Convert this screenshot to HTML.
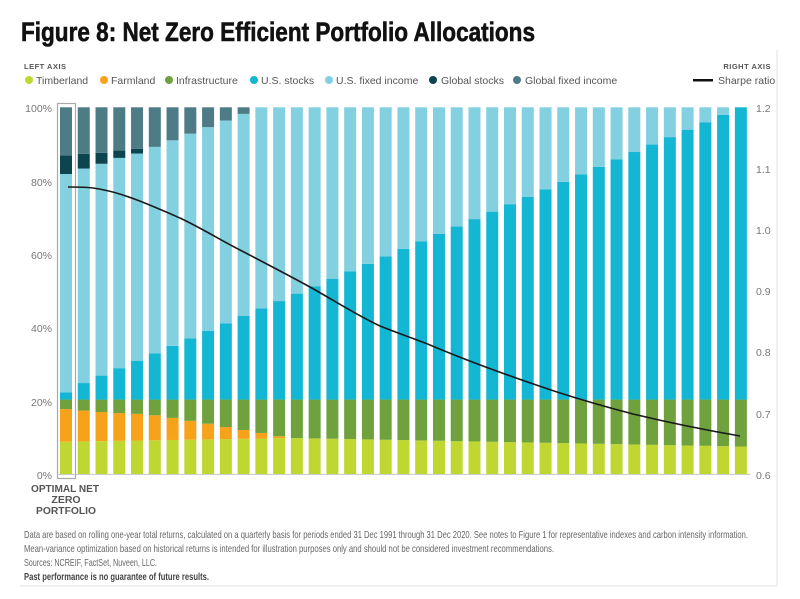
<!DOCTYPE html>
<html><head><meta charset="utf-8"><style>
html,body{margin:0;padding:0;background:#fff;width:800px;height:599px;overflow:hidden}
svg{display:block;font-family:"Liberation Sans",sans-serif}
</style></head><body>
<svg id="s" width="800" height="599" viewBox="0 0 800 599" xmlns="http://www.w3.org/2000/svg">
<text x="21" y="41" font-size="27" font-weight="bold" fill="#111" stroke="#111" stroke-width="0.6" textLength="514" lengthAdjust="spacingAndGlyphs">Figure 8: Net Zero Efficient Portfolio Allocations</text>
<text x="24" y="69" font-size="7.5" font-weight="bold" fill="#555" letter-spacing="0.5">LEFT AXIS</text>
<text x="771" y="69" font-size="7.5" font-weight="bold" fill="#555" text-anchor="end" letter-spacing="0.5">RIGHT AXIS</text>
<g font-size="10.5" fill="#555">
<circle cx="29" cy="80" r="4" fill="#bfd730"/><text x="36" y="84">Timberland</text>
<circle cx="104" cy="80" r="4" fill="#f7a21b"/><text x="111" y="84">Farmland</text>
<circle cx="169" cy="80" r="4" fill="#6fa23d"/><text x="176" y="84">Infrastructure</text>
<circle cx="254" cy="80" r="4" fill="#13b6d3"/><text x="261" y="84">U.S. stocks</text>
<circle cx="329" cy="80" r="4" fill="#83d0e0"/><text x="336" y="84">U.S. fixed income</text>
<circle cx="433" cy="80" r="4" fill="#0c4450"/><text x="441" y="84">Global stocks</text>
<circle cx="517" cy="80" r="4" fill="#4e7c86"/><text x="525" y="84">Global fixed income</text>
<rect x="693" y="79" width="20" height="2.5" fill="#111"/><text x="718" y="84">Sharpe ratio</text>
</g>
<line x1="777" y1="50" x2="777" y2="586" stroke="#e2e2e2"/>
<line x1="20" y1="586" x2="777" y2="586" stroke="#e2e2e2"/>
<g font-size="10.5" fill="#777">
<text x="52" y="112" text-anchor="end">100%</text>
<text x="52" y="186" text-anchor="end">80%</text>
<text x="52" y="259" text-anchor="end">60%</text>
<text x="52" y="332" text-anchor="end">40%</text>
<text x="52" y="406" text-anchor="end">20%</text>
<text x="52" y="479" text-anchor="end">0%</text>
<text x="756" y="112">1.2</text>
<text x="756" y="173">1.1</text>
<text x="756" y="234">1.0</text>
<text x="756" y="295">0.9</text>
<text x="756" y="356">0.8</text>
<text x="756" y="418">0.7</text>
<text x="756" y="479">0.6</text>
</g>
<g id="bars"></g>
<line x1="57" y1="474.5" x2="750" y2="474.5" stroke="#ccc"/>
<rect x="57.5" y="103.5" width="18" height="375" fill="none" stroke="#aaa" stroke-width="1.2"/>
<path d="M68,187 C80,187 92,187 104,190 C125,194 150,205 180,218 C205,230 222,241 240,250 C265,263 290,276 310,287 C335,301 358,316 380,326 C400,334 415,339 430,345 C470,362 515,378 557,392 C585,401 610,408 633,414 C670,423 705,430 740,436" fill="none" stroke="#1a1a1a" stroke-width="1.6"/>
<g font-size="10.5" font-weight="bold" fill="#555" text-anchor="middle">
<text x="65" y="492" textLength="68" lengthAdjust="spacingAndGlyphs">OPTIMAL NET</text><text x="66" y="503">ZERO</text><text x="66" y="514" textLength="60" lengthAdjust="spacingAndGlyphs">PORTFOLIO</text>
</g>
<g font-size="10.5" fill="#666">
<text x="24" y="538" textLength="724" lengthAdjust="spacingAndGlyphs">Data are based on rolling one-year total returns, calculated on a quarterly basis for periods ended 31 Dec 1991 through 31 Dec 2020. See notes to Figure 1 for representative indexes and carbon intensity information.</text>
<text x="24" y="552" textLength="530" lengthAdjust="spacingAndGlyphs">Mean-variance optimization based on historical returns is intended for illustration purposes only and should not be considered investment recommendations.</text>
<text x="24" y="566" textLength="133" lengthAdjust="spacingAndGlyphs">Sources: NCREIF, FactSet, Nuveen, LLC.</text>
<text x="24" y="580" font-weight="bold" fill="#444" textLength="185" lengthAdjust="spacingAndGlyphs">Past performance is no guarantee of future results.</text>
</g>
</svg>
<script>
var g=document.getElementById('bars'),N=39,ns='http://www.w3.org/2000/svg';
var farmTop=[17.7,17.3,16.9,16.6,16.4,16,15.3,14.5,13.7,12.8,12,11.2,10.3];
var fiTop=[81.8,83.3,84.6,86.2,87.4,89.2,91,92.8,94.6,96.4,98.2];
var gsTop=[86.9,87.3,87.6,88.2,88.7];
function Y(p){return 474-p*3.667;}
function R(x,a,b,c){if(b<=a)return;var r=document.createElementNS(ns,'rect');r.setAttribute('x',x);r.setAttribute('y',Y(b));r.setAttribute('width',12);r.setAttribute('height',Y(a)-Y(b));r.setAttribute('fill',c);g.appendChild(r);}
for(var i=0;i<N;i++){
 var x=60+i*17.76;
 var tb=i<13?8.8+i*0.08:9.8-(i-13)*(2.3/25);
 var ft=i<13?Math.max(farmTop[i],tb):tb;
 var inf=20.3;
 var us=i==0?22.3:Math.min(100,24.8+(i-1)*75.2/37);
 var fi=i<fiTop.length?fiTop[i]:100;
 var gs=i<gsTop.length?gsTop[i]:fi;
 R(x,0,tb,'#bfd730');R(x,tb,ft,'#f7a21b');R(x,ft,inf,'#6fa23d');
 R(x,inf,us,'#13b6d3');R(x,us,fi,'#83d0e0');R(x,fi,gs,'#0c4450');R(x,gs,100,'#4e7c86');
}
</script>
</body></html>
